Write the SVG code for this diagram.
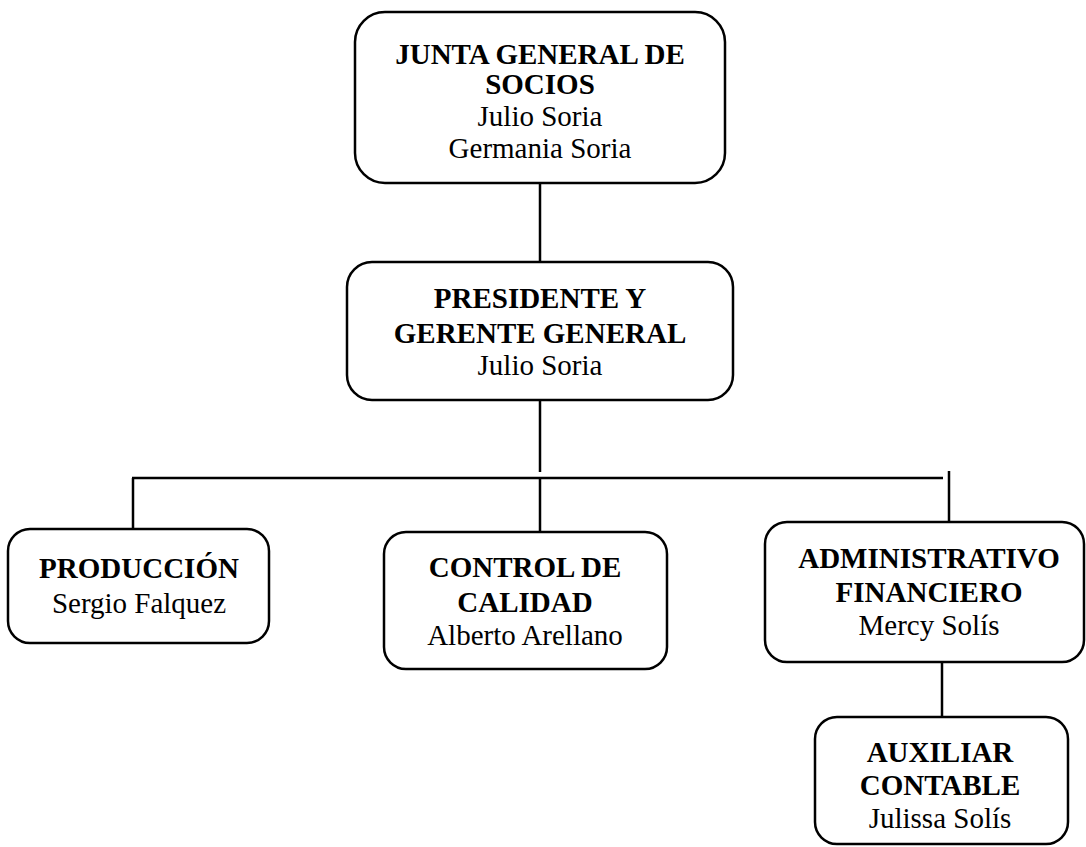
<svg xmlns="http://www.w3.org/2000/svg" width="1086" height="847" viewBox="0 0 1086 847">
<style>
.box{fill:#fff;stroke:#000;stroke-width:2.5}
.ln{stroke:#000;stroke-width:2.5;fill:none}
text{font-family:"Liberation Serif","Times New Roman",serif;font-size:29px;text-anchor:middle;fill:#000}
.b{font-weight:bold}
</style>
<rect width="1086" height="847" fill="#fff"/>
<g id="connectors">
<line class="ln" x1="540" y1="183" x2="540" y2="262"/>
<line class="ln" x1="540" y1="400" x2="540" y2="472"/>
<line class="ln" x1="132" y1="478" x2="943" y2="478"/>
<line class="ln" x1="133" y1="478" x2="133" y2="529"/>
<line class="ln" x1="540" y1="478" x2="540" y2="532"/>
<line class="ln" x1="949" y1="471" x2="949" y2="522"/>
<line class="ln" x1="942" y1="662" x2="942" y2="717"/>
</g>
<g id="junta">
<rect class="box" x="355" y="12" width="370" height="171" rx="30"/>
<text class="b" x="540" y="64">JUNTA GENERAL DE</text>
<text class="b" x="540" y="94">SOCIOS</text>
<text x="540" y="126">Julio Soria</text>
<text x="540" y="158">Germania Soria</text>
</g>
<g id="presidente">
<rect class="box" x="347" y="262" width="386" height="138" rx="25"/>
<text class="b" x="540" y="308">PRESIDENTE Y</text>
<text class="b" x="540" y="343">GERENTE GENERAL</text>
<text x="540" y="375">Julio Soria</text>
</g>
<g id="produccion">
<rect class="box" x="8" y="529" width="261" height="114" rx="22"/>
<text class="b" x="139" y="578">PRODUCCIÓN</text>
<text x="139" y="613">Sergio Falquez</text>
</g>
<g id="control">
<rect class="box" x="384" y="532" width="283" height="137" rx="22"/>
<text class="b" x="525" y="577">CONTROL DE</text>
<text class="b" x="525" y="612">CALIDAD</text>
<text x="525" y="645">Alberto Arellano</text>
</g>
<g id="administrativo">
<rect class="box" x="765" y="522" width="319" height="140" rx="22"/>
<text class="b" x="929" y="568">ADMINISTRATIVO</text>
<text class="b" x="929" y="602">FINANCIERO</text>
<text x="929" y="635">Mercy Solís</text>
</g>
<g id="auxiliar">
<rect class="box" x="815" y="717" width="253" height="127" rx="22"/>
<text class="b" x="940" y="762">AUXILIAR</text>
<text class="b" x="940" y="795">CONTABLE</text>
<text x="940" y="828">Julissa Solís</text>
</g>
</svg>
